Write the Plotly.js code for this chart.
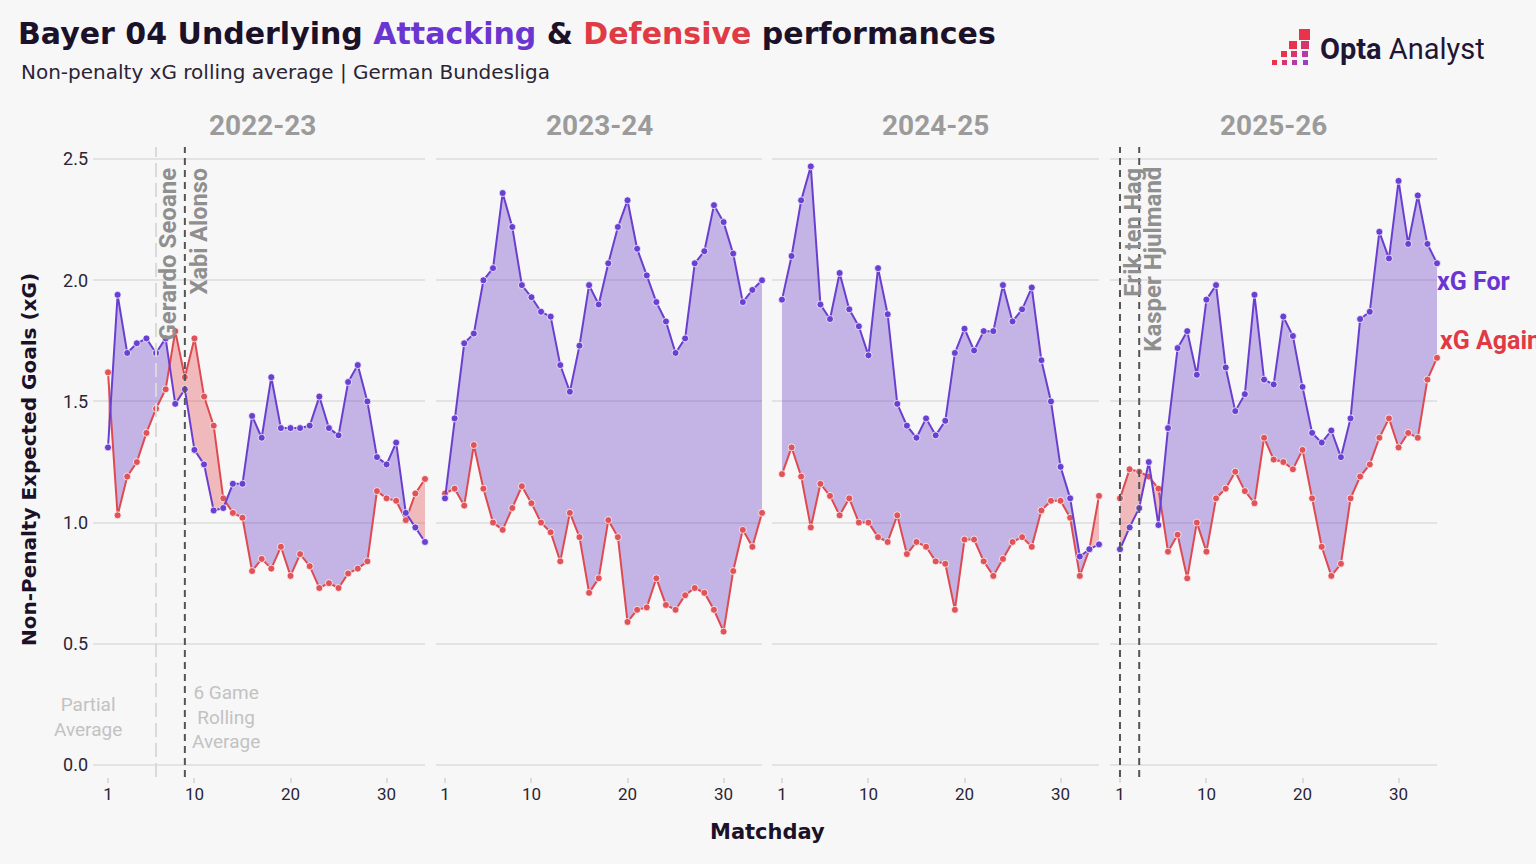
<!DOCTYPE html>
<html>
<head>
<meta charset="utf-8">
<script src="https://cdn.plot.ly/plotly-3.0.1.min.js"></script>
<style>
  html, body { margin: 0; padding: 0; background: #f7f7f7; }
  #chart { width: 1536px; height: 864px; }
</style>
</head>
<body>
<div id="chart"></div>
<script>
// ---------------- DATA ----------------
const seasons = ["2022-23", "2023-24", "2024-25", "2025-26"];
const matchdays = [1,2,3,4,5,6,7,8,9,10,11,12,13,14,15,16,17,18,19,20,21,22,23,24,25,26,27,28,29,30,31,32,33,34];
const tickMatchdays = [1, 10, 20, 30];
const yTicks = [0, 0.5, 1.0, 1.5, 2.0, 2.5];

const xgFor2223 = [1.31,1.94,1.70,1.74,1.76,1.70,1.76,1.49,1.55,1.30,1.24,1.05,1.06,1.16,1.16,1.44,1.35,1.60,1.39,1.39,1.39,1.40,1.52,1.39,1.36,1.58,1.65,1.50,1.27,1.24,1.33,1.04,0.98,0.92];
const xgAgainst2223 = [1.62,1.03,1.19,1.25,1.37,1.47,1.55,1.79,1.60,1.76,1.52,1.40,1.10,1.04,1.02,0.80,0.85,0.81,0.90,0.78,0.87,0.82,0.73,0.75,0.73,0.79,0.81,0.84,1.13,1.10,1.09,1.01,1.12,1.18];

const xgFor2324 = [1.10,1.43,1.74,1.78,2.00,2.05,2.36,2.22,1.98,1.93,1.87,1.85,1.65,1.54,1.73,1.98,1.90,2.07,2.22,2.33,2.13,2.02,1.91,1.83,1.70,1.76,2.07,2.12,2.31,2.24,2.11,1.91,1.96,2.00];
const xgAgainst2324 = [1.12,1.14,1.07,1.32,1.14,1.00,0.97,1.06,1.15,1.08,1.00,0.96,0.84,1.04,0.94,0.71,0.77,1.01,0.94,0.59,0.64,0.65,0.77,0.66,0.64,0.70,0.73,0.71,0.64,0.55,0.80,0.97,0.90,1.04];

const xgFor2425 = [1.92,2.10,2.33,2.47,1.90,1.84,2.03,1.88,1.81,1.69,2.05,1.86,1.49,1.40,1.35,1.43,1.36,1.42,1.70,1.80,1.71,1.79,1.79,1.98,1.83,1.88,1.97,1.67,1.50,1.23,1.10,0.86,0.89,0.91];
const xgAgainst2425 = [1.20,1.31,1.19,0.98,1.16,1.11,1.03,1.10,1.00,1.00,0.94,0.92,1.03,0.87,0.92,0.90,0.84,0.83,0.64,0.93,0.93,0.84,0.78,0.85,0.92,0.94,0.90,1.05,1.09,1.09,1.02,0.78,0.89,1.11];

const xgFor2526 = [0.89,0.98,1.06,1.25,0.99,1.39,1.72,1.79,1.61,1.92,1.98,1.64,1.46,1.53,1.94,1.59,1.57,1.85,1.77,1.56,1.37,1.33,1.38,1.27,1.43,1.84,1.87,2.20,2.09,2.41,2.15,2.35,2.15,2.07];
const xgAgainst2526 = [1.10,1.22,1.21,1.19,1.14,0.88,0.95,0.77,1.00,0.88,1.10,1.14,1.21,1.13,1.08,1.35,1.26,1.25,1.22,1.30,1.10,0.90,0.78,0.83,1.10,1.19,1.24,1.35,1.43,1.31,1.37,1.35,1.59,1.68];

// manager changes
const managerSeason = [0, 0, 3, 3];
const managerMatchday = [9, 9, 1, 3];
const managerNames = ["Gerardo Seoane", "Xabi Alonso", "Erik ten Hag", "Kasper Hjulmand"];
const partialAverageEnd = 6;

// ---------------- STYLE ----------------
const FONT = "Roboto, 'Liberation Sans', 'DejaVu Sans', sans-serif";
const WIDE = "'DejaVu Sans', Roboto, sans-serif";
const BG = "#f7f7f7";
const PURPLE = "#6a3fd0";
const RED = "#de4a50";
const PURPLE_FILL = "rgba(110,70,200,0.38)";
const RED_FILL = "rgba(225,70,75,0.35)";
const W = 1536, H = 864;
const px = v => v / W;
const py = v => 1 - v / H;

const panelPx = [[93, 425], [436, 762], [772, 1099], [1110, 1437]];
const panelRange = [[-0.5625, 34], [0.0625, 34], [-0.04, 34], [-0.04, 34]];
const facetShift = [3, 0, 0, 0];
const yDomain = [py(777), py(147)];

const forSeries = [xgFor2223, xgFor2324, xgFor2425, xgFor2526];
const againstSeries = [xgAgainst2223, xgAgainst2324, xgAgainst2425, xgAgainst2526];

const traces = [];
const layout = {
  width: W, height: H,
  margin: {l: 0, r: 0, t: 0, b: 0},
  paper_bgcolor: BG, plot_bgcolor: BG,
  showlegend: false,
  font: {family: FONT, color: "#2a2536"},
  title: {
    text: "<b>Bayer 04 Underlying <span style='color:#6a35d0'>Attacking</span> &amp; <span style='color:#e03a45'>Defensive</span> performances</b>",
    font: {family: WIDE, size: 30, color: "#1b1128"},
    x: px(18), xanchor: "left", xref: "container",
    y: py(33), yanchor: "middle", yref: "container"
  },
  annotations: [], shapes: []
};

// ribbon pieces between the two series, split where they cross
function ribbonTraces(xs, f, a, xa, ya) {
  const out = [];
  const n = xs.length;
  const diff = i => f[i] - a[i];
  const nextSign = from => {
    for (let j = from; j < n; j++) if (diff(j) !== 0) return diff(j) > 0 ? 1 : -1;
    return 1;
  };
  let top = [[xs[0], f[0]]], bot = [[xs[0], a[0]]];
  let sign = nextSign(0);
  const flush = () => {
    if (top.length < 2) return;
    const X = top.map(p => p[0]).concat(bot.slice().reverse().map(p => p[0]));
    const Y = top.map(p => p[1]).concat(bot.slice().reverse().map(p => p[1]));
    out.push({
      x: X, y: Y, xaxis: xa, yaxis: ya, type: "scatter", mode: "lines",
      fill: "toself", fillcolor: sign > 0 ? PURPLE_FILL : RED_FILL,
      line: {width: 0}, hoverinfo: "skip"
    });
  };
  for (let i = 0; i < n - 1; i++) {
    const d0 = diff(i), d1 = diff(i + 1);
    if (d0 * d1 < 0) {
      const t = d0 / (d0 - d1);
      const xc = xs[i] + t * (xs[i + 1] - xs[i]);
      const yc = f[i] + t * (f[i + 1] - f[i]);
      top.push([xc, yc]); bot.push([xc, yc]);
      flush();
      sign = -sign;
      top = [[xc, yc]]; bot = [[xc, yc]];
    }
    top.push([xs[i + 1], f[i + 1]]);
    bot.push([xs[i + 1], a[i + 1]]);
    if (d1 === 0 && i + 1 < n - 1) {
      flush();
      top = [[xs[i + 1], f[i + 1]]]; bot = [[xs[i + 1], a[i + 1]]];
      sign = nextSign(i + 2);
    }
  }
  flush();
  return out;
}

for (let s = 0; s < 4; s++) {
  const n = s === 0 ? "" : String(s + 1);
  const xa = "x" + n, ya = "y" + n;
  const f = forSeries[s], a = againstSeries[s];

  ribbonTraces(matchdays, f, a, xa, ya).forEach(t => traces.push(t));

  traces.push({
    x: matchdays, y: a, xaxis: xa, yaxis: ya, type: "scatter", mode: "lines+markers",
    name: "xG Against " + seasons[s], cliponaxis: false,
    line: {color: RED, width: 2},
    marker: {color: "#e05359", size: 7, line: {color: "rgba(255,255,255,0.75)", width: 1}}
  });
  traces.push({
    x: matchdays, y: f, xaxis: xa, yaxis: ya, type: "scatter", mode: "lines+markers",
    name: "xG For " + seasons[s], cliponaxis: false,
    line: {color: PURPLE, width: 2},
    marker: {color: "#6a40d2", size: 7, line: {color: "rgba(255,255,255,0.75)", width: 1}}
  });

  layout["xaxis" + n] = {
    domain: [px(panelPx[s][0]), px(panelPx[s][1])],
    range: panelRange[s], anchor: ya,
    tickvals: tickMatchdays, ticks: "outside", ticklen: 5, tickwidth: 2, tickcolor: "#dcdcdc",
    ticklabelstandoff: -3,
    showgrid: false, zeroline: false, showline: false,
    tickfont: {family: FONT, size: 17, color: "#2a2536"}, fixedrange: true
  };
  layout["yaxis" + n] = {
    domain: yDomain, range: [-0.05, 2.55], anchor: xa,
    tickvals: yTicks, tickformat: ".1f", ticks: "",
    ticklabelstandoff: 4,
    showgrid: true, gridcolor: "#e3e3e3", gridwidth: 2,
    zeroline: false, showline: false, showticklabels: s === 0,
    tickfont: {family: FONT, size: 18, color: "#2a2536"}, fixedrange: true
  };

  layout.annotations.push({
    text: "<b>" + seasons[s] + "</b>", xref: "paper", yref: "paper",
    x: px((panelPx[s][0] + panelPx[s][1]) / 2 + facetShift[s]), y: py(125),
    xanchor: "center", yanchor: "middle", showarrow: false,
    font: {family: FONT, size: 28, color: "#9b9b9b"}
  });
}

// partial-average boundary line
layout.shapes.push({
  type: "line", xref: "x", yref: "y", x0: partialAverageEnd, x1: partialAverageEnd, y0: -0.05, y1: 2.55,
  line: {color: "#dadada", width: 2, dash: "14px,6px"}
});

// manager change lines + labels
const labelOffsetPx = [-17, 14, 13, 13];
const labelSize = [24, 23.5, 23.5, 24];
const drawn = {};
for (let m = 0; m < managerNames.length; m++) {
  const s = managerSeason[m];
  const n = s === 0 ? "" : String(s + 1);
  const md = managerMatchday[m];
  const key = s + "_" + md;
  if (!drawn[key]) {
    drawn[key] = true;
    layout.shapes.push({
      type: "line", xref: "x" + n, yref: "y" + n, x0: md, x1: md, y0: -0.05, y1: 2.55,
      line: {color: "#555555", width: 2, dash: "7px,5px"}
    });
  }
  layout.annotations.push({
    text: "<b>" + managerNames[m] + "</b>", xref: "x" + n, yref: "y" + n,
    x: md, xshift: labelOffsetPx[m], y: 2.475,
    xanchor: "center", yanchor: "top", textangle: -90, showarrow: false,
    font: {family: FONT, size: labelSize[m], color: "#8f8f8f"}
  });
}

// notes
layout.annotations.push({
  text: "Partial<br>Average", xref: "paper", yref: "paper", x: px(88), y: py(717),
  xanchor: "center", yanchor: "middle", showarrow: false, align: "center",
  font: {family: FONT, size: 19, color: "#c2c2c2"}
});
layout.annotations.push({
  text: "6 Game<br>Rolling<br>Average", xref: "paper", yref: "paper", x: px(226), y: py(717),
  xanchor: "center", yanchor: "middle", showarrow: false, align: "center",
  font: {family: FONT, size: 19, color: "#c2c2c2"}
});

// series labels (cut by the right edge, as in the original)
layout.annotations.push({
  text: "<b>xG For</b>", xref: "paper", yref: "paper", x: px(1435), y: py(282),
  xanchor: "left", yanchor: "middle", showarrow: false,
  font: {family: FONT, size: 25, color: "#6a35d0"}
});
layout.annotations.push({
  text: "<b>xG Against</b>", xref: "paper", yref: "paper", x: px(1438), y: py(340),
  xanchor: "left", yanchor: "middle", showarrow: false,
  font: {family: FONT, size: 25, color: "#e03a45"}
});

// subtitle
layout.annotations.push({
  text: "Non-penalty xG rolling average | German Bundesliga", xref: "paper", yref: "paper",
  x: px(19), y: py(72), xanchor: "left", yanchor: "middle", showarrow: false,
  font: {family: WIDE, size: 20, color: "#2a2536"}
});

// axis titles
layout.annotations.push({
  text: "<b>Non-Penalty Expected Goals (xG)</b>", xref: "paper", yref: "paper",
  x: px(29), y: py(460), xanchor: "center", yanchor: "middle", textangle: -90, showarrow: false,
  font: {family: WIDE, size: 20, color: "#1b1128"}
});
layout.annotations.push({
  text: "<b>Matchday</b>", xref: "paper", yref: "paper",
  x: px(767), y: py(832), xanchor: "center", yanchor: "middle", showarrow: false,
  font: {family: WIDE, size: 21, color: "#1b1128"}
});

// logo
layout.annotations.push({
  text: "<b>Opta</b> Analyst", xref: "paper", yref: "paper",
  x: px(1318), y: py(49), xanchor: "left", yanchor: "middle", showarrow: false,
  font: {family: FONT, size: 29, color: "#1f1535"}
});
const logoSquares = [
  [1299, 29, 11, "#e8334a"],
  [1289, 41, 8, "#e8334a"], [1301, 41, 8, "#d8336a"],
  [1281, 51, 6, "#e8334a"], [1291, 51, 6, "#d8356e"], [1302, 51, 6, "#b53aa8"],
  [1272, 60, 5, "#e8334a"], [1282, 60, 5, "#d8356e"], [1292, 60, 5, "#b53aa8"], [1303, 60, 5, "#9a3ccc"]
];
logoSquares.forEach(q => {
  layout.shapes.push({
    type: "rect", xref: "paper", yref: "paper",
    x0: px(q[0]), x1: px(q[0] + q[2]), y0: py(q[1] + q[2]), y1: py(q[1]),
    fillcolor: q[3], line: {width: 0}
  });
});

Plotly.newPlot("chart", traces, layout, {displayModeBar: false, staticPlot: true});
</script>
</body>
</html>
